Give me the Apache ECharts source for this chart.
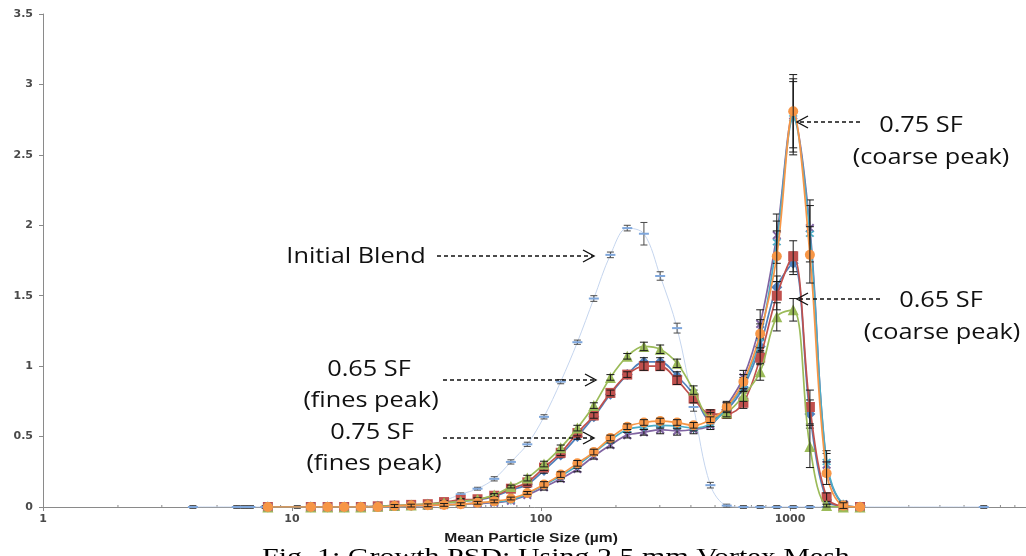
<!DOCTYPE html>
<html><head><meta charset="utf-8">
<script src="https://cdn.jsdelivr.net/npm/echarts@6/dist/echarts.min.js"></script>
<style>html,body{margin:0;padding:0;background:#fff;overflow:hidden}#c{width:1026px;height:556px}</style>
</head><body><div id="c"></div>
<script>
// Mean particle size classes (µm) for the growth runs
const sizes = [8, 11.9, 13.9, 16.2, 18.9, 22.1, 25.8, 30.1, 35.1, 40.8, 47.6, 55.6, 64.9, 75.7, 88.1, 102.8, 120, 140, 163, 190, 222, 259, 301, 352, 410, 479, 557, 650, 759, 885, 1030, 1202, 1403, 1637, 1910];

// 0.65 SF runs
const blueVals  = [0,0,0,0,0,0.005,0.01,0.01,0.02,0.03,0.04,0.05,0.075,0.12,0.16,0.26,0.37,0.50,0.64,0.80,0.94,1.03,1.03,0.93,0.80,0.62,0.69,0.85,1.14,1.56,1.73,0.66,0.05,0.005,0];
const redVals   = [0,0,0,0,0,0.005,0.01,0.015,0.02,0.035,0.05,0.055,0.08,0.13,0.175,0.28,0.385,0.525,0.65,0.81,0.94,1.00,1.00,0.90,0.77,0.66,0.66,0.74,1.06,1.50,1.78,0.71,0.07,0.005,0];
const greenVals = [0,0,0,0,0,0.005,0.01,0.015,0.02,0.03,0.04,0.055,0.085,0.145,0.205,0.305,0.42,0.56,0.72,0.92,1.07,1.14,1.12,1.02,0.83,0.64,0.67,0.79,0.96,1.35,1.40,0.43,0.01,0,0];
// 0.75 SF runs
const purpleVals = [0,0,0,0,0,0,0.005,0.01,0.01,0.015,0.02,0.025,0.03,0.045,0.085,0.14,0.20,0.27,0.36,0.44,0.51,0.53,0.55,0.54,0.55,0.58,0.72,0.92,1.30,1.93,2.78,1.98,0.30,0.02,0];
const cyanVals   = [0,0,0,0,0,0,0.005,0.01,0.012,0.015,0.02,0.03,0.035,0.05,0.095,0.155,0.22,0.295,0.385,0.475,0.55,0.57,0.58,0.575,0.56,0.59,0.70,0.87,1.20,1.88,2.76,1.94,0.32,0.02,0];
const orangeVals = [0,0,0,0,0,0,0.007,0.01,0.012,0.015,0.02,0.03,0.04,0.06,0.10,0.16,0.23,0.31,0.39,0.49,0.57,0.60,0.61,0.60,0.58,0.62,0.71,0.89,1.23,1.78,2.81,1.79,0.24,0.01,0];

// error bar half-heights
const blueErr   = [0,0,0,0,0,0.01,0.01,0.01,0.01,0.01,0.01,0.01,0.01,0.01,0.02,0.02,0.02,0.02,0.02,0.02,0.02,0.03,0.03,0.03,0.03,0.03,0.03,0.04,0.05,0.08,0.08,0.10,0.03,0.01,0];
const redErr    = [0,0,0,0,0,0.01,0.01,0.01,0.01,0.01,0.01,0.01,0.01,0.01,0.02,0.02,0.02,0.02,0.02,0.02,0.02,0.03,0.03,0.03,0.03,0.03,0.03,0.04,0.05,0.10,0.11,0.12,0.03,0.01,0];
const greenErr  = [0,0,0,0,0,0.01,0.01,0.01,0.01,0.01,0.01,0.01,0.01,0.01,0.02,0.02,0.02,0.02,0.02,0.02,0.02,0.03,0.03,0.03,0.03,0.03,0.03,0.04,0.06,0.10,0.08,0.15,0.01,0,0];
const purpleErr = [0,0,0,0,0,0,0.01,0.01,0.01,0.01,0.01,0.01,0.01,0.01,0.01,0.02,0.02,0.02,0.02,0.02,0.02,0.02,0.03,0.03,0.03,0.03,0.03,0.05,0.10,0.15,0.26,0.20,0.08,0.02,0];
const cyanErr   = [0,0,0,0,0,0,0.01,0.01,0.01,0.01,0.01,0.01,0.01,0.01,0.01,0.02,0.02,0.02,0.02,0.02,0.02,0.02,0.02,0.02,0.02,0.02,0.03,0.05,0.10,0.15,0.26,0.20,0.08,0.02,0];
const orangeErr = [0,0,0,0,0,0,0.01,0.01,0.01,0.01,0.01,0.01,0.01,0.01,0.01,0.02,0.02,0.02,0.02,0.02,0.02,0.02,0.02,0.02,0.02,0.02,0.03,0.05,0.10,0.18,0.26,0.20,0.08,0.02,0];

// Initial blend
const ibSizes  = [4, 6, 6.4, 6.8, 7.8, 10.5, 11.9, 13.9, 16.2, 18.9, 22.1, 25.8, 30.1, 35.1, 40.8, 47.6, 55.6, 64.9, 75.7, 88.1, 102.8, 120, 140, 163, 190, 222, 259, 301, 352, 410, 479, 557, 650, 759, 885, 1030, 1202, 1403, 6000];
const ibVals   = [0,0,0,0,0,0,0,0,0,0,0,0,0.005,0.015,0.045,0.09,0.13,0.20,0.32,0.445,0.64,0.89,1.17,1.48,1.79,1.98,1.94,1.64,1.27,0.71,0.155,0.01,0,0,0,0,0,0,0];
const ibErr    = [0.01,0.01,0.01,0.01,0.01,0.01,0.01,0.01,0.01,0.01,0.01,0.01,0.01,0.01,0.01,0.01,0.01,0.015,0.015,0.015,0.015,0.015,0.015,0.02,0.02,0.02,0.08,0.03,0.035,0.03,0.02,0.01,0.01,0.01,0.01,0.01,0.01,0.01,0.01];

const yTicks = [0, 0.5, 1, 1.5, 2, 2.5, 3, 3.5];
const xTickLabels = [1, 10, 100, 1000];
const xMinorTicks = [2,3,4,5,6,7,8,9,20,30,40,50,60,70,80,90,200,300,400,500,600,700,800,900,2000,3000,4000,5000,6000,7000,8000,9000];

const xPath = 'path://M0,1.6L1.6,0L5,3.4L8.4,0L10,1.6L6.6,5L10,8.4L8.4,10L5,6.6L1.6,10L0,8.4L3.4,5Z';
const starPath = 'path://M0,1.6L1.6,0L5,3.4L8.4,0L10,1.6L6.6,5L10,8.4L8.4,10L5,6.6L1.6,10L0,8.4L3.4,5Z M4.3,-1.5L5.7,-1.5L5.7,11.5L4.3,11.5Z';

const runs = [
  {name:'0.65 SF run A', vals: blueVals,   err: blueErr,   color:'#4F81BD', symbol:'diamond',  size:11},
  {name:'0.65 SF run B', vals: redVals,    err: redErr,    color:'#C0504D', symbol:'rect',     size:10},
  {name:'0.65 SF run C', vals: greenVals,  err: greenErr,  color:'#9BBB59', symbol:'triangle', size:11},
  {name:'0.75 SF run A', vals: purpleVals, err: purpleErr, color:'#8064A2', symbol:xPath,      size:9},
  {name:'0.75 SF run B', vals: cyanVals,   err: cyanErr,   color:'#4BACC6', symbol:starPath,   size:9},
  {name:'0.75 SF run C', vals: orangeVals, err: orangeErr, color:'#F79646', symbol:'circle',   size:10}
];

function errBar(color, cap, dash) {
  return function (params, api) {
    const x = api.value(0), y = api.value(1), e = api.value(2);
    const children = [];
    if (e > 0) {
      const t = api.coord([x, y + e]), b = api.coord([x, y - e]);
      const h = cap / 2;
      const st = {stroke: color, lineWidth: 1};
      children.push({type:'line', shape:{x1:t[0], y1:t[1], x2:b[0], y2:b[1]}, style:st});
      children.push({type:'line', shape:{x1:t[0]-h, y1:t[1], x2:t[0]+h, y2:t[1]}, style:st});
      children.push({type:'line', shape:{x1:b[0]-h, y1:b[1], x2:b[0]+h, y2:b[1]}, style:st});
    }
    if (dash) {
      const p = api.coord([x, y]);
      children.push({type:'line', shape:{x1:p[0]-5, y1:p[1], x2:p[0]+5, y2:p[1]}, style:{stroke:dash, lineWidth:2}});
    }
    return {type:'group', children};
  };
}

const series = [];
series.push({
  type:'line', name:'Initial Blend', data: ibSizes.map((s,i)=>[s, ibVals[i]]),
  smooth:0.35, symbol:'none', lineStyle:{color:'#C5D5EE', width:1}, z:1, silent:true
});
series.push({
  type:'custom', name:'Initial Blend bars', data: ibSizes.map((s,i)=>[s, ibVals[i], ibErr[i]]),
  renderItem: errBar('#4a4a4a', 7, '#7FA7DC'), encode:{x:0,y:1}, z:2, silent:true
});
runs.forEach((r, k) => {
  series.push({
    type:'line', name:r.name, data: sizes.map((s,i)=>[s, r.vals[i]]),
    smooth:0.35, symbol:r.symbol, symbolSize:r.size, showAllSymbol:true,
    lineStyle:{color:r.color, width:1.7}, itemStyle:{color:r.color, borderWidth:0},
    z:3+k*2, silent:true
  });
  series.push({
    type:'custom', name:r.name+' error', data: sizes.map((s,i)=>[s, r.vals[i], r.err[i]]),
    renderItem: errBar('#1a1a1a', 8, null), encode:{x:0,y:1}, z:4+k*2, silent:true
  });
});
// minor ticks on the log axis
series.push({
  type:'custom', name:'minor ticks', data: xMinorTicks.map(v=>[v,0]),
  renderItem: function(params, api){
    const p = api.coord([api.value(0), 0]);
    return {type:'line', shape:{x1:p[0], y1:p[1]-2, x2:p[0], y2:p[1]+1}, style:{stroke:'#8a8a8a', lineWidth:1}};
  }, encode:{x:0,y:1}, z:0, silent:true
});

const chart = echarts.init(document.getElementById('c'), null, {renderer:'canvas'});

function arrow(x1, x2, y) {
  const dir = x2 > x1 ? 1 : -1;
  return [
    {type:'line', shape:{x1:x1, y1:y, x2:x2 - dir*1, y2:y}, style:{stroke:'#111', lineWidth:1.3, lineDash:[4,3]}, z:50},
    {type:'polyline', shape:{points:[[x2 - dir*11, y-6],[x2, y],[x2 - dir*11, y+6]]}, style:{stroke:'#111', lineWidth:1.4, fill:null}, z:50}
  ];
}
function txt(s, x, y) {
  return {type:'text', x:x, y:y, scaleX:1.15, style:{text:s, align:'center', verticalAlign:'middle', fontFamily:'Open Sans', fontSize:22, fill:'#111'}, z:50};
}

const graphics = [].concat(
  [txt('Initial Blend', 356, 257)],
  arrow(437, 594, 256),
  [txt('0.65 SF', 369, 370), txt('(fines peak)', 371, 401)],
  arrow(443, 596, 380),
  [txt('0.75 SF', 372, 433), txt('(fines peak)', 374, 464)],
  arrow(443, 594, 438),
  [txt('0.75 SF', 921, 126), txt('(coarse peak)', 931, 158)],
  arrow(860, 797, 122),
  [txt('0.65 SF', 941, 301), txt('(coarse peak)', 942, 333)],
  arrow(880, 797, 299),
  [{type:'text', x:531, y:539, scaleX:1.3, style:{text:'Mean Particle Size (µm)', align:'center', verticalAlign:'middle', fontFamily:'Liberation Sans', fontSize:12, fontWeight:'bold', fill:'#1a1a1a'}, z:50}],
  [{type:'text', x:262, y:546, scaleX:1.25, style:{text:'Fig. 1: Growth PSD: Using 2.5 mm Vortex Mesh', fontFamily:'Liberation Serif', fontSize:24, fill:'#000', verticalAlign:'top'}, z:50}]
);

chart.setOption({
  animation:false,
  backgroundColor:'#fff',
  grid:{left:43, right:-13, top:14, bottom:49, containLabel:false, outerBoundsMode:'none'},
  xAxis:{
    type:'log', logBase:10, min:1, max:10000,
    axisLine:{show:true, onZero:false, lineStyle:{color:'#8a8a8a', width:1}},
    axisTick:{show:true, length:4, inside:false, lineStyle:{color:'#8a8a8a'}},
    axisLabel:{formatter: v => (xTickLabels.indexOf(v) >= 0 ? String(v) : ''), fontFamily:'DejaVu Sans', fontSize:11, fontWeight:'bold', color:'#4a4a4a', margin:7},
    splitLine:{show:false}, minorTick:{show:false}, minorSplitLine:{show:false}
  },
  yAxis:{
    type:'value', min:0, max:3.5, interval:0.5,
    axisLine:{show:true, lineStyle:{color:'#8a8a8a', width:1}},
    axisTick:{show:true, length:4, lineStyle:{color:'#8a8a8a'}},
    axisLabel:{formatter: v => (yTicks.indexOf(v) >= 0 ? String(v) : ''), fontFamily:'DejaVu Sans', fontSize:11, fontWeight:'bold', color:'#4a4a4a', margin:10},
    splitLine:{show:false}
  },
  series: series,
  graphic: graphics
});
</script>
</body></html>
